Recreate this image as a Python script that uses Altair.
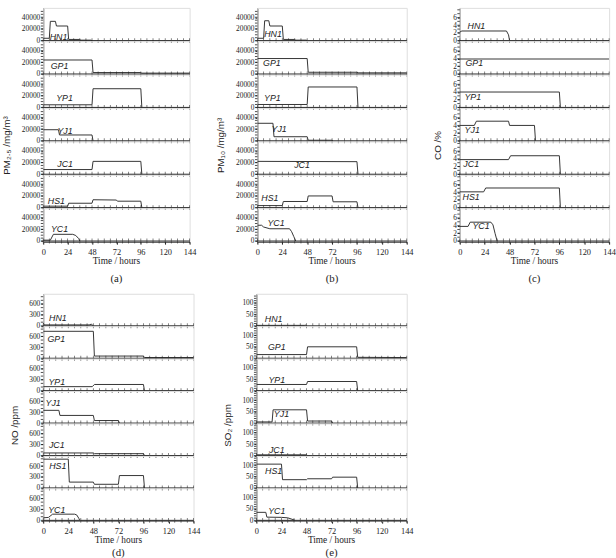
import altair as alt
import pandas as pd

STATIONS = ["HN1", "GP1", "YP1", "YJ1", "JC1", "HS1", "YC1"]
HOUR_TICKS = list(range(0, 145, 6))
HOUR_LABELS = [0, 24, 48, 72, 96, 120, 144]

# (a) PM2.5 mg/m3 : station -> (hours, values)
PM25 = {
    "HN1": ([0, 6, 7, 12, 13, 24, 25, 36, 37, 47, 48], [4000, 4000, 33000, 33000, 25000, 25000, 2000, 2000, 800, 800, 0]),
    "GP1": ([0, 48, 49, 96, 97, 144], [24000, 24000, 2500, 2500, 1500, 1500]),
    "YP1": ([0, 48, 49, 96, 97], [4500, 4500, 32000, 32000, 0]),
    "YJ1": ([0, 15, 16, 48, 49], [19000, 19000, 10000, 10000, 0]),
    "JC1": ([0, 48, 49, 96, 97], [8000, 8000, 22000, 22000, 0]),
    "HS1": ([0, 24, 25, 48, 49, 72, 73, 96, 97], [2500, 2500, 7500, 7500, 13500, 13000, 11000, 11000, 0]),
    "YC1": ([0, 7, 10, 29, 32, 35, 36], [1500, 1500, 11500, 11500, 9500, 4000, 0]),
}
# (b) PM10 mg/m3
PM10 = {
    "HN1": ([0, 6, 7, 11, 12, 24, 25, 36, 37, 47, 48], [4000, 4000, 34000, 34000, 25000, 25000, 2000, 2000, 800, 800, 0]),
    "GP1": ([0, 48, 49, 96, 97, 144], [26500, 26500, 3000, 3000, 2000, 2000]),
    "YP1": ([0, 48, 49, 96, 97], [5000, 5000, 35000, 35000, 0]),
    "YJ1": ([0, 15, 16, 48, 49, 72, 73], [30000, 30000, 7000, 7000, 1000, 1000, 0]),
    "JC1": ([0, 96, 97], [22000, 21500, 0]),
    "HS1": ([0, 24, 25, 48, 49, 72, 73, 96, 97], [3500, 3500, 10500, 10500, 20000, 20000, 10000, 10000, 0]),
    "YC1": ([0, 4, 6, 12, 31, 33, 35, 37], [27000, 27000, 24000, 21000, 21000, 16000, 8000, 0]),
}
# (c) CO %
CO = {
    "HN1": ([0, 2, 45, 47, 48], [2.2, 2.5, 2.5, 1.5, 0]),
    "GP1": ([0, 144], [3.9, 3.9]),
    "YP1": ([0, 96, 97], [4.0, 4.0, 0]),
    "YJ1": ([0, 14, 16, 47, 48, 72, 73], [4.0, 4.0, 5.1, 5.1, 4.0, 4.0, 0]),
    "JC1": ([0, 47, 49, 96, 97], [3.8, 3.8, 4.8, 4.8, 0]),
    "HS1": ([0, 23, 25, 96, 97], [4.1, 4.1, 5.1, 5.1, 0]),
    "YC1": ([0, 8, 10, 30, 32, 34, 36], [3.8, 3.8, 4.9, 4.9, 4.2, 2.0, 0]),
}
# (d) NO ppm
NO = {
    "HN1": ([0, 1, 44, 46, 48], [80, 25, 25, 45, 0]),
    "GP1": ([0, 48, 49, 96, 97, 144], [740, 740, 60, 60, 20, 20]),
    "YP1": ([0, 47, 49, 96, 97], [110, 110, 170, 170, 0]),
    "YJ1": ([0, 15, 16, 48, 49, 72, 73], [350, 350, 210, 210, 70, 70, 0]),
    "JC1": ([0, 48, 49, 96, 97], [70, 70, 50, 50, 0]),
    "HS1": ([0, 24, 25, 48, 49, 72, 73, 96, 97], [790, 790, 160, 160, 100, 100, 340, 340, 0]),
    "YC1": ([0, 5, 9, 30, 32, 34, 35], [70, 80, 170, 170, 150, 60, 0]),
}
# (e) SO2 ppm
SO2 = {
    "HN1": ([0, 1, 46, 47, 48], [5, 2, 2, 3, 0]),
    "GP1": ([0, 48, 49, 96, 97, 144], [16, 16, 50, 50, 4, 3]),
    "YP1": ([0, 48, 49, 96, 97], [27, 27, 40, 40, 0]),
    "YJ1": ([0, 15, 16, 48, 49, 72, 73], [5, 5, 58, 58, 9, 9, 0]),
    "JC1": ([0, 48, 49], [3, 3, 0]),
    "HS1": ([0, 24, 25, 48, 49, 72, 73, 96, 97], [104, 104, 36, 36, 40, 40, 47, 47, 0]),
    "YC1": ([0, 9, 10, 24, 30, 34, 37], [35, 35, 14, 13, 11, 5, 0]),
}

# station-name label anchor (hours, value) inside each row
LAB_A = {"HN1": (15, 6900), "GP1": (16, 13500), "YP1": (21, 15400), "YJ1": (21.5, 15900),
         "JC1": (21.5, 17700), "HS1": (13, 11800), "YC1": (16, 20500)}
LAB_B = {"HN1": (15, 11800), "GP1": (14, 19400), "YP1": (14.5, 15600), "YJ1": (21, 19300),
         "JC1": (43, 15800), "HS1": (12, 16900), "YC1": (18, 31000)}
LAB_C = {"HN1": (16, 3.7), "GP1": (14, 2.9), "YP1": (12.5, 2.8), "YJ1": (12, 2.9),
         "JC1": (11, 2.7), "HS1": (11, 2.8), "YC1": (20.5, 3.9)}
LAB_D = {"HN1": (14, 210), "GP1": (12.5, 527), "YP1": (13, 236), "YJ1": (9.5, 563),
         "JC1": (13, 282), "HS1": (14, 590), "YC1": (13, 290)}
LAB_E = {"HN1": (16.5, 31), "GP1": (19.5, 48), "YP1": (19.5, 48), "YJ1": (24, 40),
         "JC1": (19.5, 26), "HS1": (16.5, 74), "YC1": (19.5, 41)}

SERIF = "Liberation Serif"
SANS = "Liberation Sans"
INK = "#222222"


def panel(data, labels, ymax, ystep, ylabels, ytitle, tag, row_h, width, title_dy, tag_dy, xpad):
    recs = []
    for s in STATIONS:
        ts, vs = data[s]
        for i, (t, v) in enumerate(zip(ts, vs)):
            recs.append({"station": s, "t": t, "v": v, "i": i, "kind": "line", "name": ""})
        for h in HOUR_TICKS:
            recs.append({"station": s, "t": h, "v": 0, "i": h, "kind": "tick", "name": ""})
        k = 0
        while k * ystep <= ymax * 0.95:
            recs.append({"station": s, "t": 0, "v": k * ystep, "i": k, "kind": "ytick", "name": ""})
            k += 1
        lx, ly = labels[s]
        recs.append({"station": s, "t": lx, "v": ly, "i": 0, "kind": "label", "name": s})
    recs.append({"station": STATIONS[-1], "t": 72, "v": 0, "i": 0, "kind": "xtitle", "name": "Time / hours"})
    recs.append({"station": STATIONS[-1], "t": 72, "v": 0, "i": 0, "kind": "tag", "name": tag})
    df = pd.DataFrame(recs)

    xs = alt.Scale(domain=[0, 144], nice=False, zero=False)
    ys = alt.Scale(domain=[0, ymax], nice=False)
    xaxis = alt.Axis(values=HOUR_LABELS, title=None,
                     labelFont=SERIF, labelFontSize=8.5, labelPadding=xpad,
                     tickSize=2.5, domainColor=INK, tickColor=INK,
                     labelColor=INK, grid=False,
                     labelOverlap=False, labelFlush=False)
    yaxis = alt.Axis(values=ylabels, format="d", title=None,
                     labelFont=SERIF, labelFontSize=7.5, labelPadding=1,
                     tickSize=2.5, domainColor=INK, tickColor=INK,
                     labelColor=INK, grid=False,
                     labelOverlap=False, labelFlush=False, labelBound=False)
    x = alt.X("t:Q", scale=xs, axis=xaxis)
    y = alt.Y("v:Q", scale=ys, axis=yaxis)

    line = alt.Chart().transform_filter("datum.kind == 'line'").mark_line(
        color="#333333", strokeWidth=1, clip=True
    ).encode(x=x, y=y, order="i:Q")
    base = alt.Chart().transform_filter("datum.kind == 'tick'").mark_line(
        color=INK, strokeWidth=1
    ).encode(x=x, y=y, order="i:Q")
    ticks = alt.Chart().transform_filter("datum.kind == 'tick'").mark_tick(
        color=INK, orient="vertical", size=5, thickness=0.8
    ).encode(x=x, y=y)
    yticks = alt.Chart().transform_filter("datum.kind == 'ytick'").mark_rule(
        color=INK, strokeWidth=0.8
    ).encode(x=x, x2=alt.value(-2.5), y=y)
    text = alt.Chart().transform_filter("datum.kind == 'label'").mark_text(
        font=SANS, fontSize=9, fontStyle="italic", color=INK
    ).encode(x=x, y=y, text="name:N")
    xtitle = alt.Chart().transform_filter("datum.kind == 'xtitle'").mark_text(
        font=SERIF, fontSize=9.5, color=INK
    ).encode(x=x, y=alt.value(row_h + title_dy), text="name:N")
    tagtext = alt.Chart().transform_filter("datum.kind == 'tag'").mark_text(
        font=SERIF, fontSize=11, color=INK
    ).encode(x=x, y=alt.value(row_h + tag_dy), text="name:N")

    layered = alt.layer(line, base, ticks, yticks, text, xtitle, tagtext, data=df).properties(
        width=width, height=row_h)
    return layered.facet(
        row=alt.Row("station:N", sort=STATIONS,
                    header=alt.Header(labels=False, title=ytitle, titleOrient="left",
                                      titleFont=SANS, titleFontSize=10,
                                      titleFontWeight="normal", titleColor=INK,
                                      titlePadding=-1, labelPadding=0)),
        spacing=0,
        bounds="flush",
    )


pa = panel(PM25, LAB_A, 56000, 5000, [0, 20000, 40000], "PM₂.₅ /mg/m³", "(a)", 33.3, 149, 20.5, 38.5, 4)
pb = panel(PM10, LAB_B, 56000, 5000, [0, 20000, 40000], "PM₁₀ /mg/m³", "(b)", 33.3, 152, 20.5, 38.5, 4)
pc = panel(CO, LAB_C, 8.5, 1, [0, 2, 4, 6], "CO /%", "(c)", 33.3, 152, 20.5, 38.5, 4)
pd_ = panel(NO, LAB_D, 880, 100, [0, 300, 600], "NO /ppm", "(d)", 32.6, 153, 20, 33, 3)
pe = panel(SO2, LAB_E, 140, 10, [0, 50, 100], "SO₂ /ppm", "(e)", 32.6, 153, 20, 33, 3)

top = alt.hconcat(pa, pb, pc, spacing=19)
bottom = alt.hconcat(pd_, pe, spacing=22)
chart = alt.vconcat(top, bottom, spacing=8).properties(
    padding={"left": 1, "top": 2, "right": 0, "bottom": 0}
).configure_view(stroke=None).configure_axis(
    labelColor=INK, tickColor=INK, domainColor=INK
).configure(background="white")

chart.save("out.html", embed_options={"renderer": "svg", "actions": False})
